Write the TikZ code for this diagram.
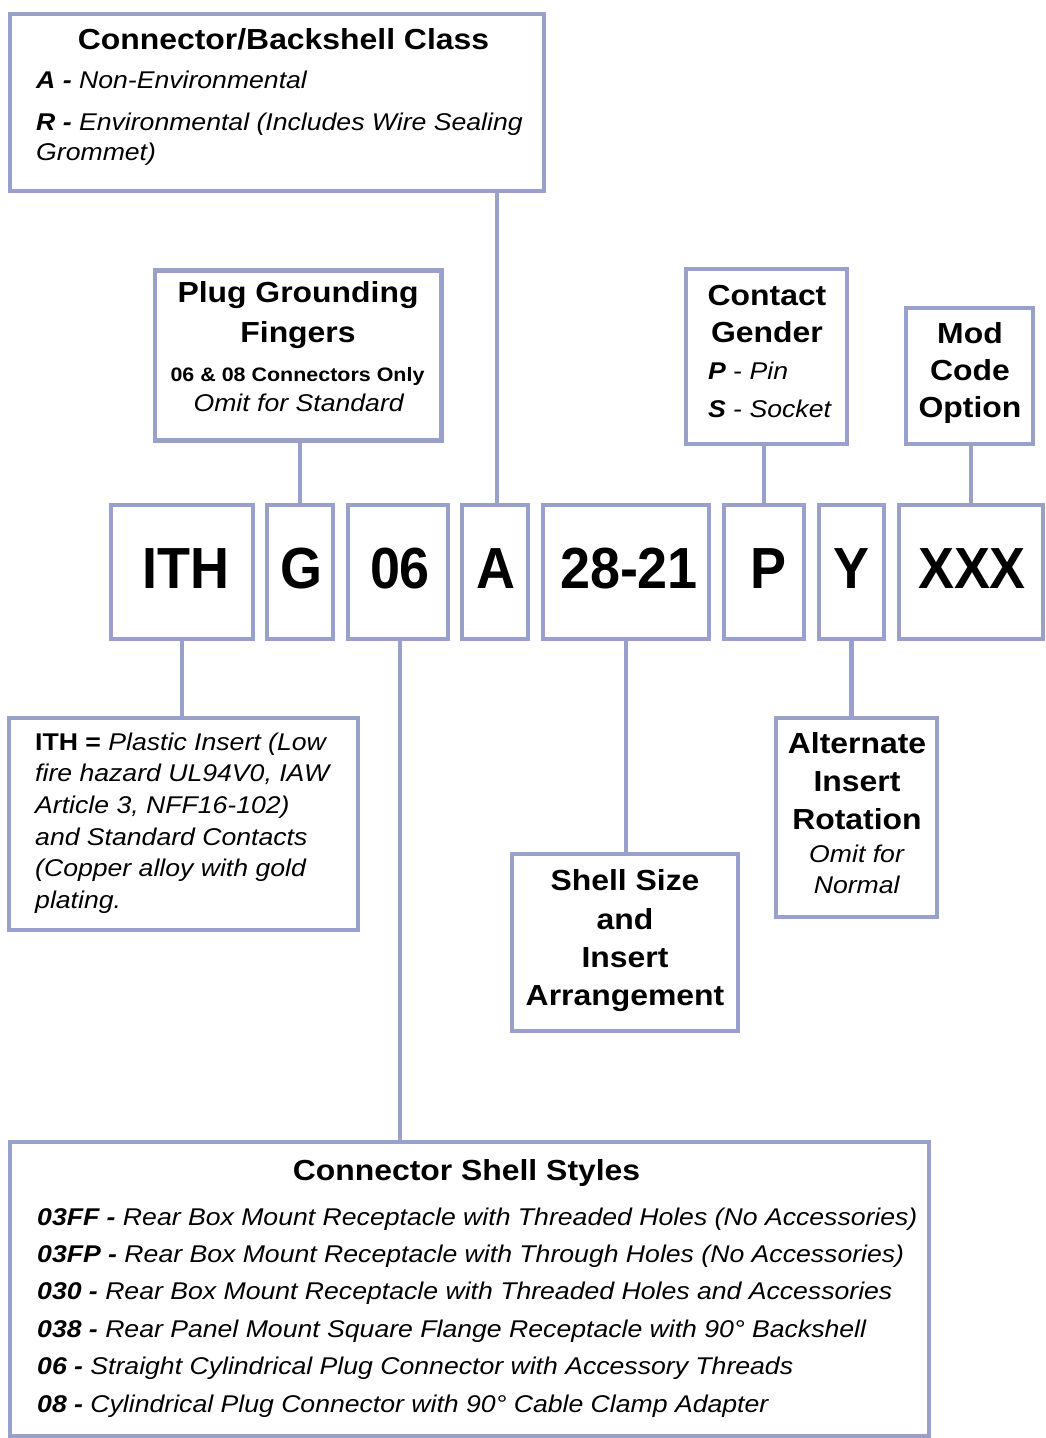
\documentclass[tikz,border=0pt]{standalone}
\usepackage{fontspec}
\setmainfont{Liberation Sans}[FakeStretch=1.1]
\newfontfamily\codefont{Liberation Sans}[FakeStretch=0.93]
\usetikzlibrary{fit}
\definecolor{lav}{RGB}{153,160,204}
\tikzset{
 box/.style={draw=lav, line width=4.5pt, rectangle, inner sep=0pt, outer sep=0pt},
 conn/.style={draw=lav, line width=4.5pt},
 ttl/.style={anchor=base, inner sep=0pt, font=\fontsize{29}{29}\selectfont\bfseries},
 bod/.style={anchor=base, inner sep=0pt, font=\fontsize{24.2}{24.2}\selectfont},
 bodl/.style={bod, anchor=base west},
 small/.style={anchor=base, inner sep=0pt, font=\fontsize{19.5}{19.5}\selectfont\bfseries},
 code/.style={anchor=base, inner sep=0pt, font=\codefont\bfseries\fontsize{58}{58}\selectfont},
}
\begin{document}
\begin{tikzpicture}[x=1pt,y=-1pt]
\useasboundingbox[fill=white] (0,0) rectangle (1046,1438);
% boxes
\node[box, fit={(10,14) (544,191)}] (class) {};
\node[box, fit={(155,270.5) (441.5,440.5)}] (plug) {};
\node[box, fit={(686,269) (847,444)}] (gender) {};
\node[box, fit={(906,308) (1033,444)}] (mod) {};
\node[box, fit={(111,505) (253,639)}] (ith) {};
\node[box, fit={(267,505) (333,639)}] (g) {};
\node[box, fit={(348,505) (448,639)}] (six) {};
\node[box, fit={(462,505) (528,639)}] (a) {};
\node[box, fit={(543,505) (709,639)}] (size) {};
\node[box, fit={(724,505) (804,639)}] (p) {};
\node[box, fit={(819,505) (884,639)}] (y) {};
\node[box, fit={(899,505) (1043,639)}] (xxx) {};
\node[box, fit={(9,718) (358,930)}] (ithd) {};
\node[box, fit={(512,854) (738,1031)}] (shell) {};
\node[box, fit={(776,718) (937,917)}] (alt) {};
\node[box, fit={(10,1142) (929,1436)}] (styles) {};
% connectors
\draw[conn] ([xshift=2pt]a.north) -- ([xshift=2pt]a.north |- class.south);
\draw[conn] (g.north) -- (g.north |- plug.south);
\draw[conn] (p.north) -- (p.north |- gender.south);
\draw[conn] (xxx.north) -- (xxx.north |- mod.south);
\draw[conn] (ith.south) -- (ith.south |- ithd.north);
\draw[conn] ([xshift=2pt]six.south) -- ([xshift=2pt]six.south |- styles.north);
\draw[conn] (size.south) -- (size.south |- shell.north);
\draw[conn] (y.south) -- (y.south |- alt.north);
% class text
\node[ttl] (classT) at (283.5,49) {Connector/Backshell Class};
\node[bodl] (classA) at (36,88) {\textbf{\textit{A -}} \textit{Non-Environmental}};
\node[bodl] (classR) at (36,130) {\textbf{\textit{R -}} \textit{Environmental (Includes Wire Sealing}};
\node[bodl] (classG) at (36,160) {\textit{Grommet)}};
% plug text
\node[ttl] (plugT1) at (298,302) {Plug Grounding};
\node[ttl] (plugT2) at (298,342) {Fingers};
\node[small] (plugS) at (297.5,381) {06 \& 08 Connectors Only};
\node[bod] (plugO) at (299,411) {\textit{Omit for Standard}};
% gender text
\node[ttl] (genT1) at (767,305) {Contact};
\node[ttl] (genT2) at (767,342) {Gender};
\node[bodl] (genP) at (708,379.5) {\textbf{\textit{P}} - \textit{Pin}};
\node[bodl] (genS) at (708,417) {\textbf{\textit{S}} - \textit{Socket}};
% mod text
\node[ttl] (modT1) at (970,343) {Mod};
\node[ttl] (modT2) at (970,380) {Code};
\node[ttl] (modT3) at (970,417) {Option};
% code letters
\node[code] (ithC) at (186,588) {ITH};
\node[code] (gC) at (301,588) {G};
\node[code] (sixC) at (400,588) {06};
\node[code] (aC) at (495.5,588) {A};
\node[code] (sizeC) at (629,588) {28-21};
\node[code] (pC) at (768,588) {P};
\node[code] (yC) at (851.5,588) {Y};
\node[code] (xxxC) at (972,588) {XXX};
% ith description
\node[bodl] (ithd1) at (35,750) {\textbf{ITH =} \textit{Plastic Insert (Low}};
\node[bodl] (ithd2) at (35,781.5) {\textit{fire hazard UL94V0, IAW}};
\node[bodl] (ithd3) at (35,813) {\textit{Article 3, NFF16-102)}};
\node[bodl] (ithd4) at (35,845) {\textit{and Standard Contacts}};
\node[bodl] (ithd5) at (35,876.5) {\textit{(Copper alloy with gold}};
\node[bodl] (ithd6) at (35,908) {\textit{plating.}};
% shell text
\node[ttl] (shT1) at (625,890) {Shell Size};
\node[ttl] (shT2) at (625,929) {and};
\node[ttl] (shT3) at (625,967) {Insert};
\node[ttl] (shT4) at (625,1005) {Arrangement};
% alternate text
\node[ttl] (altT1) at (857,753) {Alternate};
\node[ttl] (altT2) at (857,791) {Insert};
\node[ttl] (altT3) at (857,829) {Rotation};
\node[bod] (altO1) at (857,862) {\textit{Omit for}};
\node[bod] (altO2) at (857,893) {\textit{Normal}};
% styles text
\node[ttl] (stT) at (466.5,1180) {Connector Shell Styles};
\node[bodl] (st1) at (37,1225) {\textbf{\textit{03FF -}} \textit{Rear Box Mount Receptacle with Threaded Holes (No Accessories)}};
\node[bodl] (st2) at (37,1262) {\textbf{\textit{03FP -}} \textit{Rear Box Mount Receptacle with Through Holes (No Accessories)}};
\node[bodl] (st3) at (37,1299) {\textbf{\textit{030 -}} \textit{Rear Box Mount Receptacle with Threaded Holes and Accessories}};
\node[bodl] (st4) at (37,1337) {\textbf{\textit{038 -}} \textit{Rear Panel Mount Square Flange Receptacle with 90° Backshell}};
\node[bodl] (st5) at (37,1374) {\textbf{\textit{06 -}} \textit{Straight Cylindrical Plug Connector with Accessory Threads}};
\node[bodl] (st6) at (37,1412) {\textbf{\textit{08 -}} \textit{Cylindrical Plug Connector with 90° Cable Clamp Adapter}};
\end{tikzpicture}
\end{document}
